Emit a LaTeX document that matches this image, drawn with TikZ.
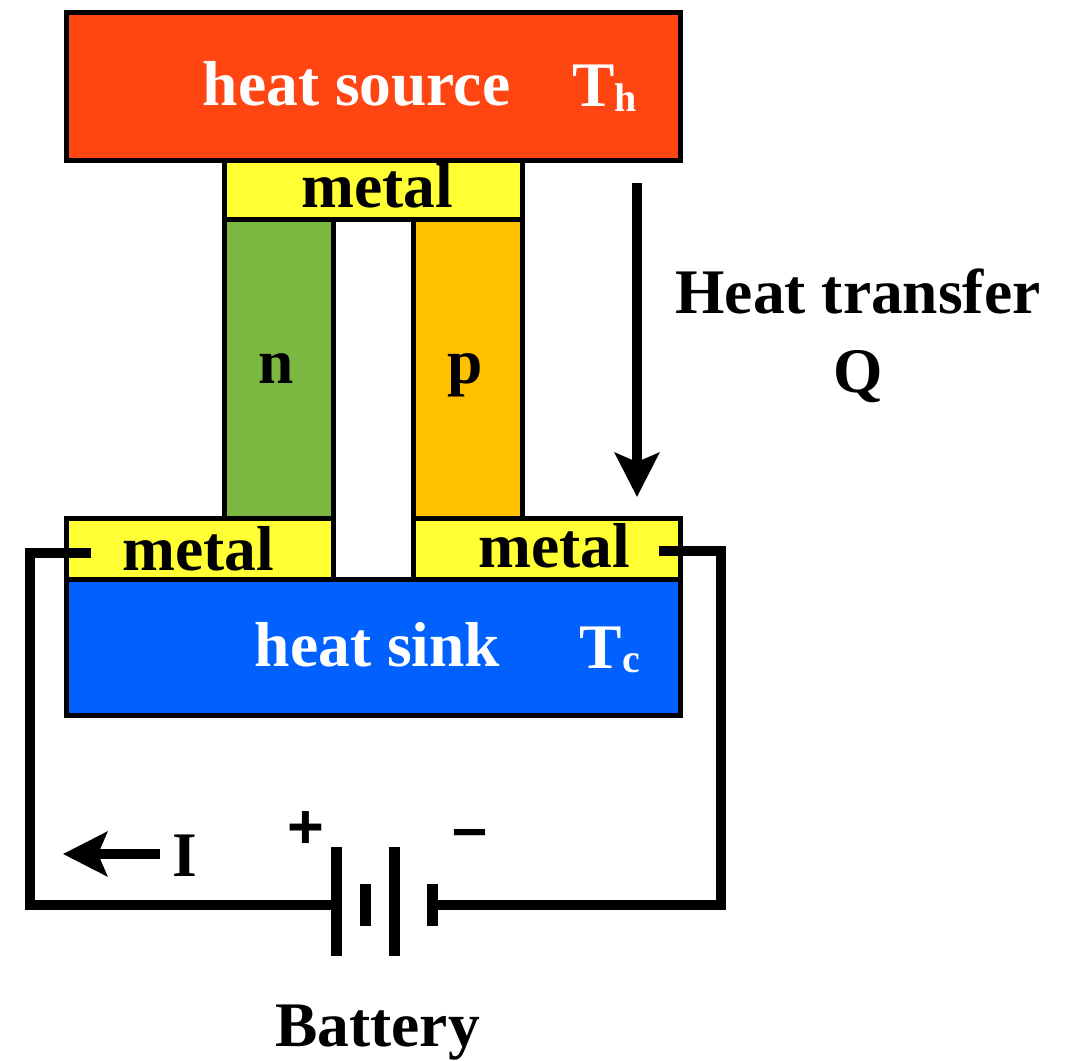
\documentclass[tikz,border=0pt]{standalone}
\usepackage{fontspec}
\setmainfont{Liberation Serif}
\newfontfamily\signfont{Liberation Sans}
\usetikzlibrary{arrows.meta}

\definecolor{sourcered}{HTML}{FF4512}
\definecolor{sinkblue}{HTML}{0061FF}
\definecolor{metalyellow}{HTML}{FFFF33}
\definecolor{ngreen}{HTML}{7AB841}
\definecolor{porange}{HTML}{FFC000}

\tikzset{
	block/.style={draw=black, line width=5pt, inner sep=0pt, outer sep=0pt},
	lab/.style={anchor=base, inner sep=0pt, font=\fontsize{63.5}{70}\selectfont\bfseries},
	sublab/.style={anchor=base, inner sep=0pt, font=\fontsize{40}{44}\selectfont\bfseries},
	signlab/.style={anchor=base, inner sep=0pt, font=\fontsize{63}{70}\selectfont\signfont\bfseries},
	wire/.style={line width=10pt, line join=miter},
	flow/.style={line width=10pt, -{Stealth[length=44pt, width=44pt, inset=9pt]}}
}

\begin{document}
\begin{tikzpicture}[x=1pt, y=-1pt]
		\useasboundingbox (0,0) rectangle (1065,1060);
		
		\node [block, fill=metalyellow, minimum width=298pt, minimum height=59pt] (metaltop) at (373.5,190) {};
		\node [block, fill=ngreen, minimum width=109pt, minimum height=300pt] (nleg) at (278.5,369) {};
		\node [block, fill=porange, minimum width=109pt, minimum height=300pt] (pleg) at (468,369) {};
		\node [block, fill=sourcered, minimum width=613.5pt, minimum height=148.5pt] (source) at (373.25,86.25) {};
		\node [block, fill=sinkblue, minimum width=614pt, minimum height=136pt] (sink) at (373,647.5) {};
		\node [block, fill=metalyellow, minimum width=267pt, minimum height=61pt] (metalleft) at (199.5,549) {};
		\node [block, fill=metalyellow, minimum width=266.5pt, minimum height=61pt] (metalright) at (546.75,549) {};
		
		\coordinate (leadl) at (91,553);
		\coordinate (cornerla) at (30,553);
		\coordinate (cornerlb) at (30,905);
		\coordinate (cellplus) at (336,905);
		\coordinate (cellminus) at (432,905);
		\coordinate (cornerrb) at (721,905);
		\coordinate (cornerra) at (721,551);
		\coordinate (leadr) at (659,551);
		\draw [wire] (leadl) -- (cornerla) -- (cornerlb) -- (cellplus);
		\draw [wire] (cellminus) -- (cornerrb) -- (cornerra) -- (leadr);
		
		\draw [line width=11pt] (336,847) -- (336,956);
		\draw [line width=11pt] (365.5,884) -- (365.5,926);
		\draw [line width=11pt] (394.5,847) -- (394.5,956);
		\draw [line width=11pt] (432,884) -- (432,926);
		
		\coordinate (heatstart) at (637,183);
		\coordinate (heatend) at (637,497);
		\draw [flow] (heatstart) -- (heatend);
		\coordinate (istart) at (160,854);
		\coordinate (iend) at (63,854);
		\draw [flow] (istart) -- (iend);
		
		\node [lab, text=white] (sourcelab) at (356.5,105) {heat source};
		\node [lab, text=white] (sourcet) at (593.5,106) {T};
		\node [sublab, text=white] (sourcesub) at (626,111) {h};
		\node [lab, text=white] (sinklab) at (377.5,666) {heat sink};
		\node [lab, text=white] (sinkt) at (601,668) {T};
		\node [sublab, text=white] (sinksub) at (631.5,672) {c};
		\node [lab] (metaltoplab) at (377.5,207) {metal};
		\node [lab] (metalleftlab) at (198,570) {metal};
		\node [lab] (metalrightlab) at (554,567) {metal};
		\node [lab] (nlab) at (276,383) {n};
		\node [lab] (plab) at (465.5,383) {p};
		\node [lab] (heatlab) at (858,313) {Heat transfer};
		\node [lab] (qlab) at (858,392) {Q};
		\node [lab] (ilab) at (185,876) {I};
		\node [lab] (batterylab) at (377.5,1046) {Battery};
		\node [signlab] (pluslab) at (305.5,848) {+};
		\node [signlab] (minuslab) at (470,849) {\char"2013};
	\end{tikzpicture}
\end{document}
